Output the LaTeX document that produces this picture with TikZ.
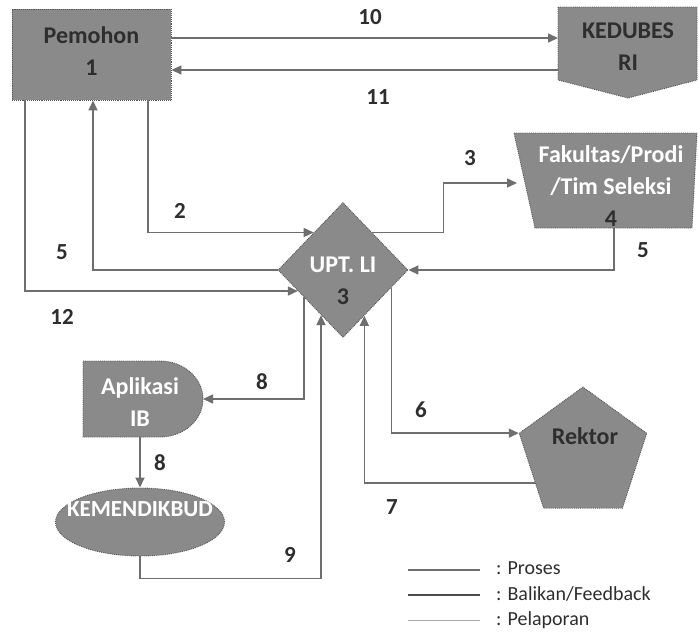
\documentclass[tikz,border=0pt]{standalone}
\usepackage{fontspec}
\setmainfont{Carlito}
\usetikzlibrary{shapes.geometric,arrows.meta}
\definecolor{boxgray}{HTML}{8A8A8A}
\definecolor{edgegray}{HTML}{555555}
\definecolor{linegray}{HTML}{6E6E6E}
\definecolor{txtdark}{HTML}{2E2E2E}
\begin{document}
\begin{tikzpicture}[x=1pt,y=-1pt,
  shapebox/.style={fill=boxgray, draw=edgegray, line width=0.9pt, densely dotted},
  nodetxt/.style={font=\bfseries\fontsize{24}{32}\selectfont, align=center, inner sep=0pt},
  numlbl/.style={font=\bfseries\fontsize{23}{28}\selectfont, text=txtdark, inner sep=0pt},
  legtxt/.style={font=\fontsize{20}{24}\selectfont, text=txtdark, anchor=west, inner sep=0pt},
  arr/.style={draw=linegray, line width=1.6pt, -{Triangle[length=10pt,width=9pt]}},
]
\useasboundingbox (0,0) rectangle (699,640);

% ---- shapes ----
\node[shapebox, rectangle, minimum width=159pt, minimum height=91pt, inner sep=0pt] (pem) at (91.5,54.5) {};
\node[nodetxt, text=txtdark] (pemtxt) at (91.5,51) {Pemohon\\1};

\path[shapebox] (558,7) -- (697,7) -- (697,80) -- (628,98) -- (558,80) -- cycle;
\node[nodetxt, text=txtdark] (kedtxt) at (628,47) {KEDUBES\\RI};
\coordinate (k10) at (558,38);
\coordinate (k11) at (558,70);

\path[shapebox] (514,133) -- (697,133) -- (692,228) -- (535,228) -- cycle;
\node[nodetxt, text=white] (faktxt) at (611,186) {Fakultas/Prodi\\/Tim Seleksi\\{\color{txtdark}4}};
\coordinate (f3) at (517,183);
\coordinate (f5) at (614,228);

\node[shapebox, diamond, minimum width=130pt, minimum height=135pt, inner sep=0pt] (upt) at (343,270) {};
\node[nodetxt, text=white] (upttxt) at (343,281) {UPT. LI\\{\color{txtdark}3}};

\node[shapebox, regular polygon, regular polygon sides=5, minimum size=134pt, inner sep=0pt] (rek) at (583,454) {};
\node[nodetxt, text=txtdark] (rektxt) at (585,436) {Rektor};

\path[shapebox] (83,361) -- (160,361) arc[start angle=-90, end angle=90, x radius=43, y radius=38] -- (83,437) -- cycle;
\node[nodetxt, text=white] (apltxt) at (140,402) {Aplikasi\\IB};
\coordinate (aplE) at (203,399);
\coordinate (aplS) at (140,437);

\node[shapebox, ellipse, minimum width=169pt, minimum height=68pt, inner sep=0pt] (kem) at (140,522) {};
\node[nodetxt, text=white, font=\bfseries\fontsize{23}{28}\selectfont] (kemtxt) at (140,509) {KEMENDIKBUD};

% ---- connectors ----
\draw[arr] ([yshift=16.5pt]pem.east) -- (k10);
\draw[arr] (k11) -- ([yshift=-15.5pt]pem.east);
\draw[arr] ([xshift=56.5pt]pem.south) |- (upt.128);
\draw[arr] (upt.west) -| ([xshift=1.5pt]pem.south);
\draw[arr] ([xshift=-66.5pt]pem.south) |- (upt.205);
\draw[arr] (upt.52) -- ++(71,0) |- (f3);
\draw[arr] (f5) |- (upt.east);
\draw[arr] (upt.-20) |- (rek.corner 2);
\draw[arr] (rek.211) -| (upt.-65);
\draw[arr] (upt.215) |- (aplE);
\draw[arr] (aplS) -- (kem.north);
\draw[arr] (kem.south) -- ++(0,22) -| (upt.244);

% ---- labels ----
\node[numlbl] (l10) at (370,17) {10};
\node[numlbl] (l11) at (378,97) {11};
\node[numlbl] (l3) at (470,158) {3};
\node[numlbl] (l2) at (180,211) {2};
\node[numlbl] (l5a) at (62,252) {5};
\node[numlbl] (l5b) at (643,250) {5};
\node[numlbl] (l12) at (62,317) {12};
\node[numlbl] (l8a) at (262,382) {8};
\node[numlbl] (l6) at (421,410) {6};
\node[numlbl] (l7) at (392,507) {7};
\node[numlbl] (l8b) at (160,463) {8};
\node[numlbl] (l9) at (290,555) {9};

% ---- legend ----
\coordinate (lp1) at (408,570); \coordinate (lp2) at (480,570);
\coordinate (lb1) at (408,595); \coordinate (lb2) at (480,595);
\coordinate (ll1) at (408,620); \coordinate (ll2) at (480,620);
\draw[draw=linegray, line width=1.5pt] (lp1) -- (lp2);
\draw[draw=black!70, line width=2.3pt] (lb1) -- (lb2);
\draw[draw=black!35, line width=0.8pt] (ll1) -- (ll2);
\node[legtxt] (legp) at (496,568) {: Proses};
\node[legtxt] (legb) at (496,594) {: Balikan/Feedback};
\node[legtxt] (legl) at (496,620) {: Pelaporan};
\end{tikzpicture}
\end{document}
